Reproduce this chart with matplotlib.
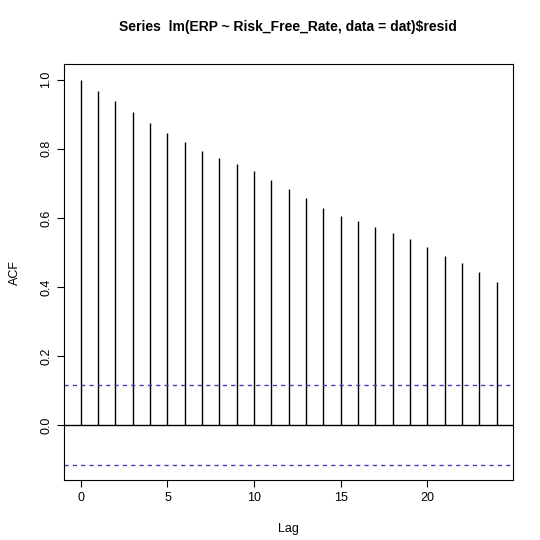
import matplotlib
matplotlib.use("Agg")
import matplotlib.pyplot as plt

lags = list(range(25))
acf = [1.0, 0.968, 0.9375, 0.906, 0.875, 0.846, 0.82, 0.795, 0.774, 0.755,
       0.736, 0.71, 0.685, 0.658, 0.63, 0.607, 0.59, 0.573, 0.555, 0.538,
       0.515, 0.49, 0.469, 0.443, 0.414]
ci = 0.116

plt.rcParams['font.family'] = ['Liberation Sans', 'DejaVu Sans']
fig = plt.figure(figsize=(5.4, 5.4), dpi=100)
ax = fig.add_axes([0.1185, 0.111, 0.831, 0.770])

ax.vlines(lags, 0, acf, color='black', linewidth=1)
ax.axhline(0, color='black', linewidth=1)
for c in (ci, -ci):
    ax.axhline(c, color='#3f3fbf', linestyle=(0, (3, 3)), linewidth=1)

ax.set_xlim(-0.97, 24.92)
ax.set_ylim(-0.159, 1.045)
ax.set_xticks([0, 5, 10, 15, 20])
ax.set_yticks([0.0, 0.2, 0.4, 0.6, 0.8, 1.0])
ax.set_yticklabels(['0.0', '0.2', '0.4', '0.6', '0.8', '1.0'], rotation=90, va='center')
ax.tick_params(labelsize=9, length=5)
ax.set_xlabel('Lag', fontsize=9, labelpad=14)
ax.set_ylabel('ACF', fontsize=9, labelpad=14)
ax.set_title('Series  lm(ERP ~ Risk_Free_Rate, data = dat)$resid',
             fontsize=10, fontweight='bold', pad=24)

fig.savefig('out.png')
